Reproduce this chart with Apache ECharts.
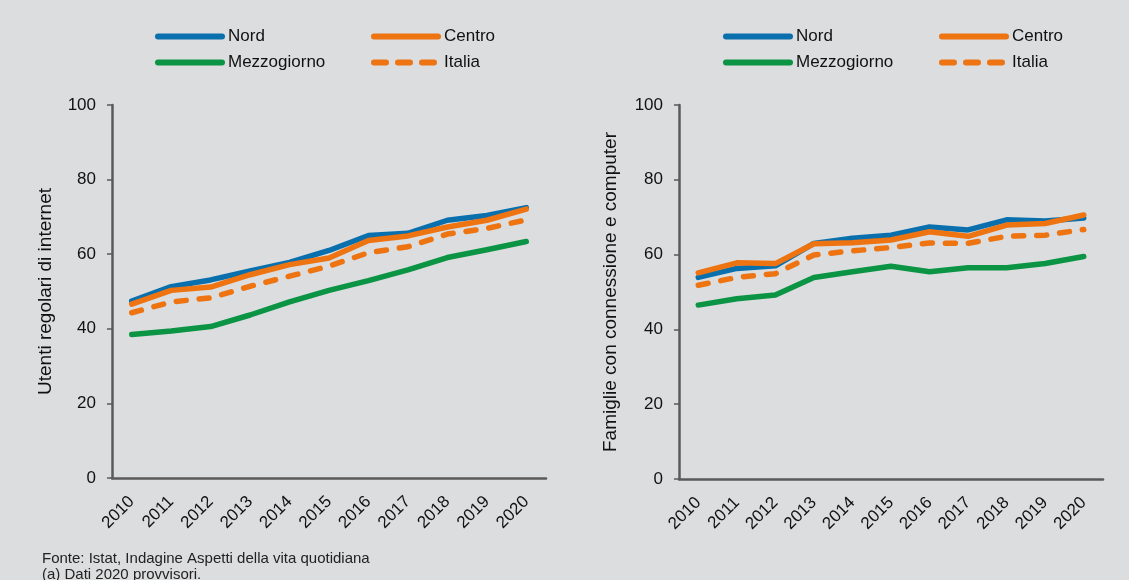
<!DOCTYPE html>
<html><head><meta charset="utf-8">
<script src="https://cdn.jsdelivr.net/npm/echarts@6/dist/echarts.min.js"></script>
<style>html,body{margin:0;padding:0;background:#dcdddf;}#c{width:1129px;height:580px;}</style>
</head><body><div id="c"></div>
<script>
const years = ['2010','2011','2012','2013','2014','2015','2016','2017','2018','2019','2020'];
const yTicks = [0, 20, 40, 60, 80, 100];
// Left: Utenti regolari di internet
const internetNord  = [47.4, 51.3, 53.1, 55.5, 57.8, 61.0, 65.0, 65.6, 69.1, 70.4, 72.5];
const internetCentro= [46.6, 50.3, 51.2, 54.5, 57.2, 59.0, 63.7, 64.9, 67.3, 69.1, 72.1];
const internetItalia= [44.3, 47.2, 48.3, 51.4, 54.1, 56.8, 60.4, 62.0, 65.4, 66.9, 69.2];
const internetMezz  = [38.5, 39.4, 40.6, 43.7, 47.2, 50.3, 52.9, 55.8, 59.1, 61.2, 63.4];
// Right: Famiglie con connessione e computer
const famNord   = [53.9, 56.3, 57.0, 63.0, 64.4, 65.2, 67.4, 66.6, 69.3, 69.0, 69.8];
const famCentro = [55.1, 57.8, 57.6, 62.9, 63.2, 63.9, 66.1, 64.9, 67.9, 68.3, 70.6];
const famItalia = [51.8, 53.9, 54.9, 59.9, 61.0, 61.9, 63.1, 63.0, 64.9, 65.2, 66.7];
const famMezz   = [46.5, 48.2, 49.2, 53.9, 55.4, 56.9, 55.4, 56.5, 56.5, 57.6, 59.5];

const C_NORD = '#0a70ad', C_CENTRO = '#ee7311', C_MEZZ = '#0b9444';
const FONT = 'Liberation Sans, Arial, sans-serif';
const axisCol = '#5a5a5a';

function xAxis(gi){
  return {type:'category', gridIndex:gi, data:years, boundaryGap:true,
    axisLine:{lineStyle:{color:axisCol, width:2.5}},
    axisTick:{length:6, lineStyle:{color:axisCol, width:1.5}},
    axisLabel:{rotate:45, color:'#111', fontSize:17, fontFamily:FONT, margin:21}};
}
function yAxis(gi, name, gap){
  return {type:'value', gridIndex:gi, min:yTicks[0], max:yTicks[yTicks.length-1], interval:20,
    name:name, nameLocation:'middle', nameGap:gap,
    nameTextStyle:{color:'#111', fontSize:19, fontFamily:FONT},
    axisLine:{show:true, lineStyle:{color:axisCol, width:2.5}},
    axisTick:{show:true, length:5, lineStyle:{color:axisCol, width:1.5}},
    splitLine:{show:false},
    axisLabel:{color:'#111', fontSize:17, fontFamily:FONT, margin:16}};
}
function ser(name, data, color, gi, dashed){
  return {name:name, type:'line', xAxisIndex:gi, yAxisIndex:gi, data:data,
    symbol:'none', smooth:false, animation:false,
    lineStyle:{color:color, width:5.5, cap:'round', join:'round', type: dashed ? [10,13] : 'solid'},
    itemStyle:{color:color}, z: dashed?2:(name.trim()==='Centro'?4:3)};
}
function legend(left, items){
  return {orient:'vertical', left:left, top:28, padding:0, itemWidth:64, itemHeight:14, itemGap:9,
    data:items.map(n => n.trim()==='Italia' ? {name:n, lineStyle:{type:[12,12]}} : n),
    selectedMode:false, formatter:n=>n.trim(),
    itemStyle:{opacity:0},
    lineStyle:{width:6, cap:'round'},
    textStyle:{color:'#111', fontSize:17, fontFamily:FONT, padding:[0,0,0,1]}};
}

const chart = echarts.init(document.getElementById('c'), null, {renderer:'canvas'});
chart.setOption({
  backgroundColor:'#dcdddf',
  animation:false,
  legend:[
    legend(155, ['Nord','Mezzogiorno']),
    legend(371, ['Centro','Italia']),
    legend(723, ['Nord ','Mezzogiorno ']),
    legend(939, ['Centro ','Italia '])
  ],
  grid:[
    {left:112, right:583, top:105, bottom:102},
    {left:679, right:26, top:105, bottom:101}
  ],
  xAxis:[xAxis(0), xAxis(1)],
  yAxis:[yAxis(0,'Utenti regolari di internet',57), yAxis(1,'Famiglie con connessione e computer',59)],
  series:[
    ser('Italia', internetItalia, C_CENTRO, 0, true),
    ser('Mezzogiorno', internetMezz, C_MEZZ, 0, false),
    ser('Nord', internetNord, C_NORD, 0, false),
    ser('Centro', internetCentro, C_CENTRO, 0, false),
    ser('Italia ', famItalia, C_CENTRO, 1, true),
    ser('Mezzogiorno ', famMezz, C_MEZZ, 1, false),
    ser('Nord ', famNord, C_NORD, 1, false),
    ser('Centro ', famCentro, C_CENTRO, 1, false)
  ],
  graphic:[
    {type:'text', left:42, top:551, style:{text:'Fonte: Istat, Indagine Aspetti della vita quotidiana\n(a) Dati 2020 provvisori.', fill:'#222', font:'15px "Liberation Sans Narrow", "Liberation Sans", Arial, sans-serif', lineHeight:16}}
  ]
});
</script></body></html>
